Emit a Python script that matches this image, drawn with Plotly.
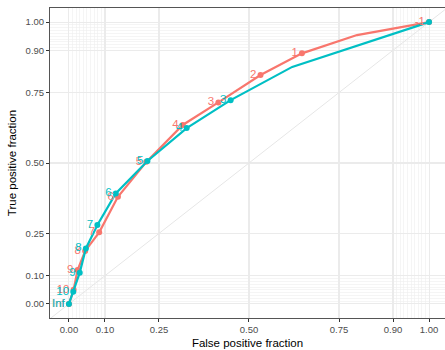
import plotly.graph_objects as go

# ROC data (false positive fraction, true positive fraction) and cutoff labels
red_fpf = [0.0, 0.013, 0.024, 0.045, 0.084, 0.136, 0.215, 0.316, 0.415, 0.532, 0.647, 0.800, 1.0]
red_tpf = [0.0, 0.050, 0.120, 0.188, 0.254, 0.380, 0.504, 0.635, 0.715, 0.812, 0.889, 0.954, 1.0]
red_lab = ["Inf", "10", "9", "8", "7", "6", "5", "4", "3", "2", "1", None, "-1"]

teal_fpf = [0.0, 0.012, 0.030, 0.047, 0.079, 0.130, 0.218, 0.327, 0.449, 0.620, 1.0]
teal_tpf = [0.0, 0.043, 0.111, 0.197, 0.280, 0.392, 0.507, 0.624, 0.723, 0.841, 1.0]
teal_lab = ["Inf", "10", "9", "8", "7", "6", "5", "4", "3", None, ""]

major_breaks = [0, 0.1, 0.25, 0.5, 0.75, 0.9, 1]
major_labels = ["0.00", "0.10", "0.25", "0.50", "0.75", "0.90", "1.00"]
minor_breaks = [round(i * 0.01, 2) for i in range(0, 11)] + [round(0.9 + i * 0.01, 2) for i in range(0, 11)]
diag = [-0.2, 1.2]

RED = "#F8766D"
TEAL = "#00BFC4"
FONT = "Liberation Sans, Arial"

fig = go.Figure()
fig.add_trace(go.Scatter(x=diag, y=diag, mode="lines",
                         line=dict(color="#E6E6E6", width=1), hoverinfo="skip"))

for fpf, tpf, lab, col in [(red_fpf, red_tpf, red_lab, RED), (teal_fpf, teal_tpf, teal_lab, TEAL)]:
    fig.add_trace(go.Scatter(x=fpf, y=tpf, mode="lines", line=dict(color=col, width=2.2)))
    px = [f for f, l in zip(fpf, lab) if l is not None]
    py = [t for t, l in zip(tpf, lab) if l is not None]
    fig.add_trace(go.Scatter(x=px, y=py, mode="markers",
                             marker=dict(color=col, size=6), cliponaxis=False))

# labels drawn above all points (teal last so it sits on top, as in ggplot)
for fpf, tpf, lab, col in [(red_fpf, red_tpf, red_lab, RED), (teal_fpf, teal_tpf, teal_lab, TEAL)]:
    px = [f for f, l in zip(fpf, lab) if l]
    py = [t for t, l in zip(tpf, lab) if l]
    pl = [l for l in lab if l]
    fig.add_trace(go.Scatter(x=px, y=py, mode="markers+text", text=pl,
                             textposition="middle left",
                             marker=dict(size=5, color="rgba(0,0,0,0)"),
                             textfont=dict(family=FONT, size=11.5, color=col),
                             cliponaxis=False))

axis_common = dict(
    tickvals=major_breaks, ticktext=major_labels,
    showgrid=True, gridcolor="#EBEBEB", gridwidth=1.1,
    minor=dict(tickvals=minor_breaks, showgrid=True, gridcolor="#EFEFEF", gridwidth=0.6, ticks=""),
    ticks="outside", ticklen=3, tickcolor="#333333", tickwidth=1,
    tickfont=dict(family=FONT, size=9.5, color="#4D4D4D"),
    showline=True, linecolor="#555555", linewidth=1,
    zeroline=False, automargin=False,
)

fig.update_xaxes(range=[-0.0526, 1.0443], mirror=True,
                 title=dict(text="False positive fraction", standoff=4,
                            font=dict(family=FONT, size=11.5, color="black")),
                 **axis_common)
fig.update_yaxes(range=[-0.05, 1.05],
                 title=dict(text="True positive fraction", standoff=6,
                            font=dict(family=FONT, size=11.5, color="black")),
                 **axis_common)

fig.update_layout(width=445, height=350, showlegend=False, hovermode=False,
                  margin=dict(l=50, r=0, t=8, b=32),
                  plot_bgcolor="white", paper_bgcolor="white")

fig.write_html("out.html", config={"displayModeBar": False, "staticPlot": True},
               post_script="document.body.style.margin='0';document.body.style.overflow='hidden';")
